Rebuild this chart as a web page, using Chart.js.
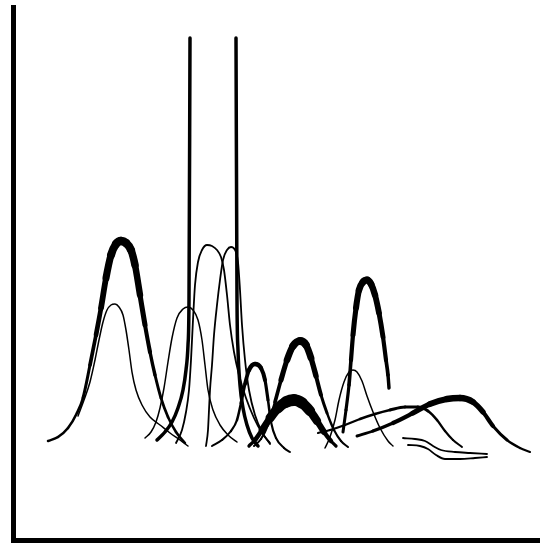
<!DOCTYPE html>
<html lang="en">
<head>
    <meta charset="UTF-8">
    <title>Overlapping peaks</title>
    <script src="https://cdn.jsdelivr.net/npm/chart.js"></script>
    <style>
        body { margin: 0; padding: 0; background: #fff; }
        canvas { display: block; }
    </style>
</head>
<body>
    <canvas id="chart" width="540" height="544"></canvas>

    <script>
        // curves: x = position along the axis, y = height above the axis
        const peakA_x = [35, 45, 55, 64, 70, 77, 83, 88, 93, 98, 103, 108, 113, 118, 122, 127, 132, 137, 142, 148, 155, 163, 172];
        const peakA_y = [99, 103, 112, 127, 142, 175, 205, 232, 262, 285, 296, 299, 297, 290, 275, 245, 215, 188, 165, 142, 123, 108, 97];

        const peakB_x = [65, 71, 77, 82, 86, 90, 94, 98, 102, 106, 110, 113, 116, 119, 123, 129, 137, 147, 157, 167, 175];
        const peakB_y = [124, 140, 158, 180, 200, 218, 230, 235, 236, 233, 225, 210, 190, 168, 150, 135, 123, 115, 107, 100, 94];

        const peakC_x = [132, 138, 143, 147, 151, 155, 159, 164, 170, 175, 180, 185, 189, 192, 195, 200, 207, 215, 224];
        const peakC_y = [102, 108, 118, 132, 152, 178, 202, 222, 231, 233, 230, 220, 200, 175, 150, 130, 115, 105, 98];

        const tall1_x = [144, 152, 159, 165, 170, 173, 175, 176, 177];
        const tall1_y = [100, 108, 118, 132, 150, 170, 195, 240, 502];

        const tall2_x = [223, 224, 225, 227, 230, 234, 239, 245];
        const tall2_y = [502, 240, 190, 155, 132, 115, 102, 94];

        const peakE_x = [163, 169, 173, 176, 178, 180, 182, 185, 189, 194, 199, 204, 208, 211, 214, 217, 221, 226, 233, 241, 249, 257];
        const peakE_y = [97, 110, 128, 150, 180, 220, 255, 278, 290, 295, 294, 290, 283, 270, 245, 215, 188, 165, 142, 122, 107, 97];

        const peakF_x = [193, 195, 196, 197, 199, 201, 204, 207, 210, 214, 218, 222, 225, 227, 229, 232, 236, 242, 249, 257];
        const peakF_y = [94, 110, 130, 150, 175, 205, 235, 260, 280, 290, 293, 290, 278, 250, 215, 180, 150, 125, 108, 96];

        const peakG_x = [199, 209, 218, 224, 228, 232, 236, 242, 248, 252, 255, 258, 263, 271, 277];
        const peakG_y = [94, 100, 109, 120, 137, 156, 170, 176, 172, 160, 140, 118, 102, 92, 88];

        const peakH_x = [241, 248, 255, 262, 268, 274, 280, 287, 293, 298, 303, 308, 314, 321, 328, 335];
        const peakH_y = [94, 101, 115, 138, 160, 180, 194, 199, 195, 182, 164, 145, 127, 110, 99, 93];

        const peakI_x = [236, 242, 249, 257, 265, 273, 281, 289, 297, 304, 311, 318, 323];
        const peakI_y = [94, 100, 110, 122, 132, 138, 140, 137, 129, 119, 108, 99, 94];

        const peakJ_x = [312, 317, 322, 326, 331, 336, 340, 344, 349, 354, 360, 367, 375, 380];
        const peakJ_y = [92, 103, 120, 140, 158, 168, 170, 168, 159, 144, 128, 112, 99, 94];

        const peakK_x = [330, 333, 336, 338, 340, 343, 346, 350, 354, 358, 362, 366, 370, 373, 375, 376];
        const peakK_y = [108, 130, 155, 180, 205, 232, 250, 258, 260, 256, 245, 227, 203, 180, 165, 152];

        const peakL_x = [305, 317, 332, 347, 362, 377, 392, 405, 415, 424, 432, 440, 449];
        const peakL_y = [107, 110, 115, 121, 126, 130, 133, 133, 129, 120, 109, 100, 93];

        const peakM_x = [344, 360, 380, 400, 417, 434, 447, 460, 470, 480, 494, 507, 517];
        const peakM_y = [104, 109, 117, 127, 136, 141, 142, 138, 128, 114, 100, 92, 88];

        const tailN_x = [390, 402, 412, 420, 428, 442, 457, 474];
        const tailN_y = [102, 101, 99, 94, 90, 88, 87, 86];

        const tailO_x = [395, 407, 415, 423, 432, 447, 462, 474];
        const tailO_y = [95, 94, 91, 85, 81, 81, 82, 83];

        // pen width: thin at the foot, heavier near the top of the inked peaks
        function makeSet(xs, ys, minW, maxW, power) {
            const lo = Math.min(...ys), hi = Math.max(...ys);
            const p = power || 2;
            return {
                data: xs.map((x, i) => ({ x: x, y: ys[i] })),
                borderColor: '#000',
                borderWidth: minW,
                borderCapStyle: 'round',
                borderJoinStyle: 'round',
                pointRadius: 0,
                fill: false,
                cubicInterpolationMode: 'monotone',
                segment: {
                    borderWidth: ctx => {
                        const f = ((ctx.p0.parsed.y + ctx.p1.parsed.y) / 2 - lo) / (hi - lo);
                        return minW + (maxW - minW) * Math.pow(f, p);
                    }
                }
            };
        }

        const chart = new Chart(document.getElementById('chart').getContext('2d'), {
            type: 'line',
            data: {
                datasets: [
                    makeSet(peakA_x, peakA_y, 2.5, 8.5),
                    makeSet(peakB_x, peakB_y, 1.5, 1.5),
                    makeSet(peakC_x, peakC_y, 1.5, 1.5),
                    makeSet(tall1_x, tall1_y, 3.5, 3.5),
                    makeSet(tall2_x, tall2_y, 3.5, 3.5),
                    makeSet(peakE_x, peakE_y, 1.8, 1.8),
                    makeSet(peakF_x, peakF_y, 1.8, 1.8),
                    makeSet(peakG_x, peakG_y, 2, 4.5),
                    makeSet(peakH_x, peakH_y, 2, 8),
                    makeSet(peakI_x, peakI_y, 3, 12, 1.2),
                    makeSet(peakJ_x, peakJ_y, 1.5, 1.5),
                    makeSet(peakK_x, peakK_y, 3, 7),
                    makeSet(peakL_x, peakL_y, 2, 3),
                    makeSet(peakM_x, peakM_y, 2, 6.5, 1.5),
                    makeSet(tailN_x, tailN_y, 1.8, 1.8),
                    makeSet(tailO_x, tailO_y, 1.8, 1.8)
                ]
            },
            options: {
                responsive: false,
                animation: false,
                devicePixelRatio: 1,
                layout: { padding: { left: 13, top: 7, right: 0, bottom: 4 } },
                plugins: { legend: { display: false }, tooltip: { enabled: false } },
                scales: {
                    x: {
                        type: 'linear', min: 0, max: 527,
                        ticks: { display: false },
                        grid: { display: false, drawTicks: false },
                        border: { display: true, width: 5, color: '#000' }
                    },
                    y: {
                        type: 'linear', min: 0, max: 533,
                        ticks: { display: false },
                        grid: { display: false, drawTicks: false },
                        border: { display: true, width: 5, color: '#000' }
                    }
                }
            }
        });
    </script>
</body>
</html>
